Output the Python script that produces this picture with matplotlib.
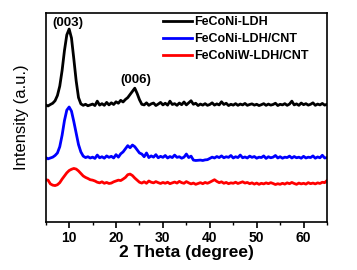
import numpy as np
import matplotlib
matplotlib.use("Agg")
import matplotlib.pyplot as plt
from matplotlib.ticker import MultipleLocator

plt.rcParams['font.family'] = ['Liberation Sans', 'DejaVu Sans']

# 2 theta grid, 5..65 deg in 0.5 deg steps
two_theta = np.arange(5.0, 65.01, 0.5)

# FeCoNi-LDH
fecoi_ldh = [
    56.0, 55.5, 56.2, 56.8, 58.0, 60.5, 65.0, 72.5, 82.0, 89.5,
    92.3, 88.0, 78.0, 67.5, 59.5, 56.5, 55.8, 56.3, 55.6, 56.0,
    56.4, 55.7, 57.8, 55.9, 56.6, 55.8, 57.2, 56.0, 57.0, 56.2,
    57.5, 56.8, 58.2, 57.4, 58.6, 59.5, 61.0, 62.5, 64.0, 61.5,
    58.5, 56.3, 56.0, 57.0, 55.8, 56.5, 56.9, 55.7, 56.4, 57.2,
    56.0, 56.8, 55.9, 57.8, 56.2, 56.6, 55.8, 56.9, 56.1, 57.4,
    56.0, 57.0, 58.0, 56.3, 56.8, 55.7, 56.4, 55.9, 56.6, 55.8,
    56.2, 57.0, 55.9, 56.5, 56.0, 57.5, 56.2, 56.8, 55.7, 56.3,
    55.9, 56.6, 55.8, 56.4, 56.0, 56.7, 55.8, 56.2, 56.5, 55.9,
    56.3, 55.7, 56.1, 56.6, 55.8, 56.4, 55.9, 56.2, 56.8, 55.7,
    56.3, 56.0, 56.6, 55.8, 56.4, 57.8, 56.0, 56.5, 55.8, 56.9,
    56.1, 56.6, 55.9, 56.3, 57.0, 55.8, 56.4, 56.0, 56.7, 55.9,
    56.3,
]

# FeCoNi-LDH/CNT
fecoi_ldh_cnt = [
    30.8, 30.2, 30.6, 31.0, 31.8, 33.0, 36.0, 41.5, 48.5, 53.5,
    55.0, 53.0, 48.0, 42.5, 37.0, 33.5, 31.5, 30.8, 31.2, 30.6,
    31.0, 30.4, 32.0, 30.7, 31.2, 30.5, 31.6, 30.9, 31.4, 30.6,
    32.2, 31.0, 32.6, 33.5, 35.0, 36.5, 35.5, 36.8, 36.0, 34.5,
    33.0, 32.5, 31.2, 33.0, 30.8, 31.6, 31.0, 32.2, 30.7, 31.4,
    30.9, 31.8, 30.6, 31.3, 30.8, 32.0, 30.9, 31.2, 30.5, 31.0,
    32.5, 30.8, 31.5, 29.6, 29.4, 29.5, 29.6, 29.4, 29.7, 29.8,
    30.4, 31.0, 30.6, 31.3, 30.8, 31.6, 30.7, 31.2, 30.9, 31.8,
    30.6, 31.2, 30.8, 32.0, 30.7, 31.1, 30.6, 31.5, 30.9, 31.3,
    30.5, 31.0, 30.8, 31.6, 30.4, 31.2, 30.7, 31.0, 31.8, 30.6,
    31.2, 30.5, 31.0, 30.8, 31.5, 30.6, 31.3, 30.7, 31.0, 30.5,
    31.4, 30.6, 31.0, 30.8, 31.6, 30.5, 31.1, 30.7, 31.9, 30.6,
    30.8,
]

# FeCoNiW-LDH/CNT
fecoiw_ldh_cnt = [
    20.2, 20.0, 18.2, 17.6, 17.4, 17.8, 18.8, 20.5, 22.0, 23.5,
    24.6, 25.2, 25.6, 25.3, 24.4, 23.2, 22.0, 21.3, 20.8, 20.2,
    20.0, 19.6, 19.0, 18.7, 19.2, 18.5, 18.9, 18.4, 18.6, 19.2,
    19.6, 20.0, 19.8, 20.5, 21.3, 22.6, 22.9, 22.2, 21.0, 20.0,
    19.0, 18.6, 19.2, 18.5, 19.6, 19.0, 18.7, 19.3, 18.8, 18.4,
    18.9, 18.5, 19.0, 18.3, 18.7, 19.1, 18.6, 19.4, 18.8, 18.5,
    19.3, 18.7, 18.2, 18.6, 18.0, 18.4, 18.8, 18.3, 18.9, 18.5,
    19.0, 19.6, 20.2, 19.4, 18.8, 19.2, 18.5, 18.9, 18.3, 18.7,
    18.5, 19.0, 18.4, 18.8, 19.2, 18.6, 18.9, 18.3, 18.7, 18.1,
    18.6, 18.0, 18.5, 18.2, 18.7, 18.3, 18.8, 18.4, 17.9, 18.3,
    18.0, 18.5, 18.1, 18.7, 18.3, 18.9, 18.4, 18.0, 18.6, 18.2,
    18.5, 18.1, 18.8, 18.3, 18.6, 18.2, 18.7, 18.4, 19.0, 18.8,
    19.8,
]

labels = ["FeCoNi-LDH", "FeCoNi-LDH/CNT", "FeCoNiW-LDH/CNT"]
colors = ["black", "#0000ff", "#ff0000"]

fig = plt.figure(figsize=(3.57, 2.70), dpi=100)
ax = fig.add_axes([0.128, 0.178, 0.788, 0.774])

for ys, lab, c in zip([fecoi_ldh, fecoi_ldh_cnt, fecoiw_ldh_cnt], labels, colors):
    ax.plot(two_theta, ys, color=c, lw=2.0, label=lab)

ax.set_xlim(5, 65)
ax.set_ylim(0, 100)
ax.xaxis.set_major_locator(MultipleLocator(10))
ax.xaxis.set_minor_locator(MultipleLocator(5))
ax.set_yticks([])
ax.tick_params(axis="x", which="major", direction="out", length=4, width=1.2, pad=2.5)
ax.tick_params(axis="x", which="minor", direction="out", length=2.5, width=1.0)
for lab in ax.get_xticklabels():
    lab.set_fontweight("bold")
    lab.set_fontsize(10)
for sp in ax.spines.values():
    sp.set_linewidth(1.2)

ax.set_xlabel("2 Theta (degree)", fontsize=12.5, fontweight="bold", labelpad=0)
ax.set_ylabel("Intensity (a.u.)", fontsize=12, labelpad=12)

ax.text(9.8, 95.2, "(003)", ha="center", va="center", fontsize=9.5, fontweight="bold")
ax.text(24.2, 68.0, "(006)", ha="center", va="center", fontsize=9.5, fontweight="bold")

ax.legend(loc="upper left", bbox_to_anchor=(0.417, 0.985), frameon=False,
          prop={"weight": "bold", "size": 9}, handlelength=2.3,
          handletextpad=0.2, labelspacing=0.4, borderpad=0, borderaxespad=0)

fig.savefig("out.png", dpi=100)
